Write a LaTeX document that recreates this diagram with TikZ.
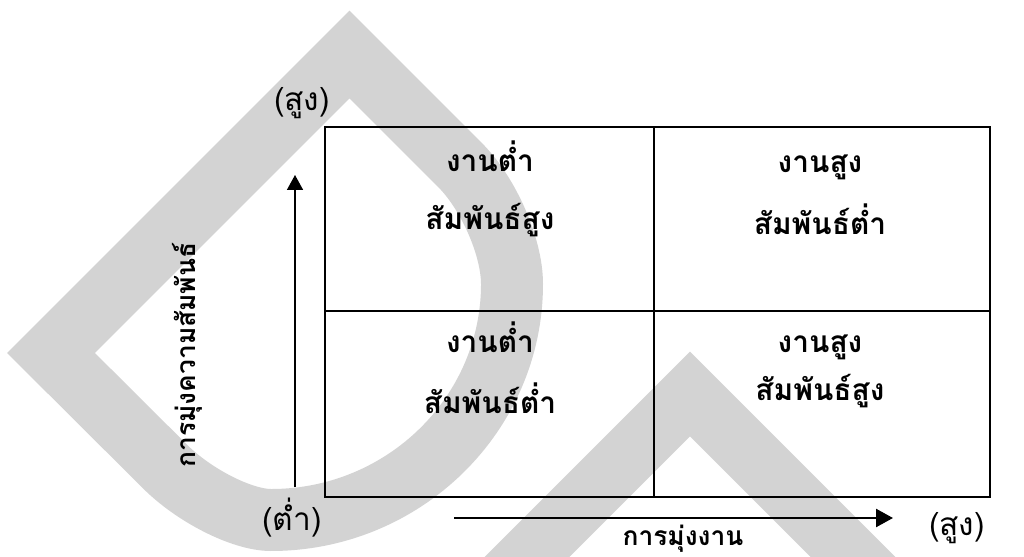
\documentclass[tikz,border=0pt]{standalone}
\usepackage{fontspec}
\newfontfamily\thaifont[Script=Thai]{Loma}
\usetikzlibrary{arrows.meta}
\definecolor{wmgrey}{RGB}{211,211,211}
\tikzset{
  cellText/.style={font=\thaifont\bfseries\fontsize{17}{20}\selectfont,anchor=base,inner sep=0pt},
  endText/.style={font=\thaifont\fontsize{18}{21}\selectfont,inner sep=0pt},
  axisText/.style={font=\thaifont\bfseries\fontsize{15}{18}\selectfont,inner sep=0pt},
}
\begin{document}
\begin{tikzpicture}[x=0.02cm,y=-0.02cm]
\useasboundingbox (0,0) rectangle (1024,557);
\clip (0,0) rectangle (1024,557);
% watermark
\draw[wmgrey,line width=1.24cm,line join=miter] (349.5,54.5) -- (51,353) -- (165,466.5)
  .. controls (194,495.5) and (242,520) .. (271,520)
  .. controls (404,520) and (512,414) .. (512,284)
  .. controls (512,247) and (488.6,193.6) .. (460,165) -- cycle;
\draw[wmgrey,line width=1.2cm,line join=miter] (500,584) -- (690,394) -- (880,584);

% grid
\coordinate (tl) at (325,127);
\coordinate (br) at (990,497);
\coordinate (tm) at (654,127);
\coordinate (bm) at (654,497);
\coordinate (ml) at (325,311);
\coordinate (mr) at (990,311);
\draw[line width=1.1pt] (tl) rectangle (br);
\draw[line width=1.1pt] (tm) -- (bm) (ml) -- (mr);

\node[cellText] (lt1) at (490,172) {งานต่ำ};
\node[cellText] (lt2) at (490,230) {สัมพันธ์สูง};
\node[cellText] (rt1) at (820,173) {งานสูง};
\node[cellText] (rt2) at (820,235) {สัมพันธ์ต่ำ};
\node[cellText] (lb1) at (490,352) {งานต่ำ};
\node[cellText] (lb2) at (490,413) {สัมพันธ์ต่ำ};
\node[cellText] (rb1) at (820,352) {งานสูง};
\node[cellText] (rb2) at (820,400) {สัมพันธ์สูง};

% axes
\node[endText] (yhi) at (302,103) {(สูง)};
\node[endText] (ylo) at (292,518) {(ต่ำ)};
\node[endText] (xhi) at (957,528) {(สูง)};
\coordinate (y0) at (295,487);
\coordinate (y1) at (295,175);
\coordinate (x0) at (454,518);
\coordinate (x1) at (893,518);
\draw[-{Triangle[length=0.3cm,width=0.32cm]},line width=0.9pt] (y0) -- (y1);
\draw[-{Triangle[length=0.34cm,width=0.36cm]},line width=1.4pt] (x0) -- (x1);
\node[axisText,rotate=90] (ylab) at (187,355) {การมุ่งความสัมพันธ์};
\node[axisText,anchor=base] (xlab) at (683,545) {การมุ่งงาน};
\end{tikzpicture}
\end{document}
